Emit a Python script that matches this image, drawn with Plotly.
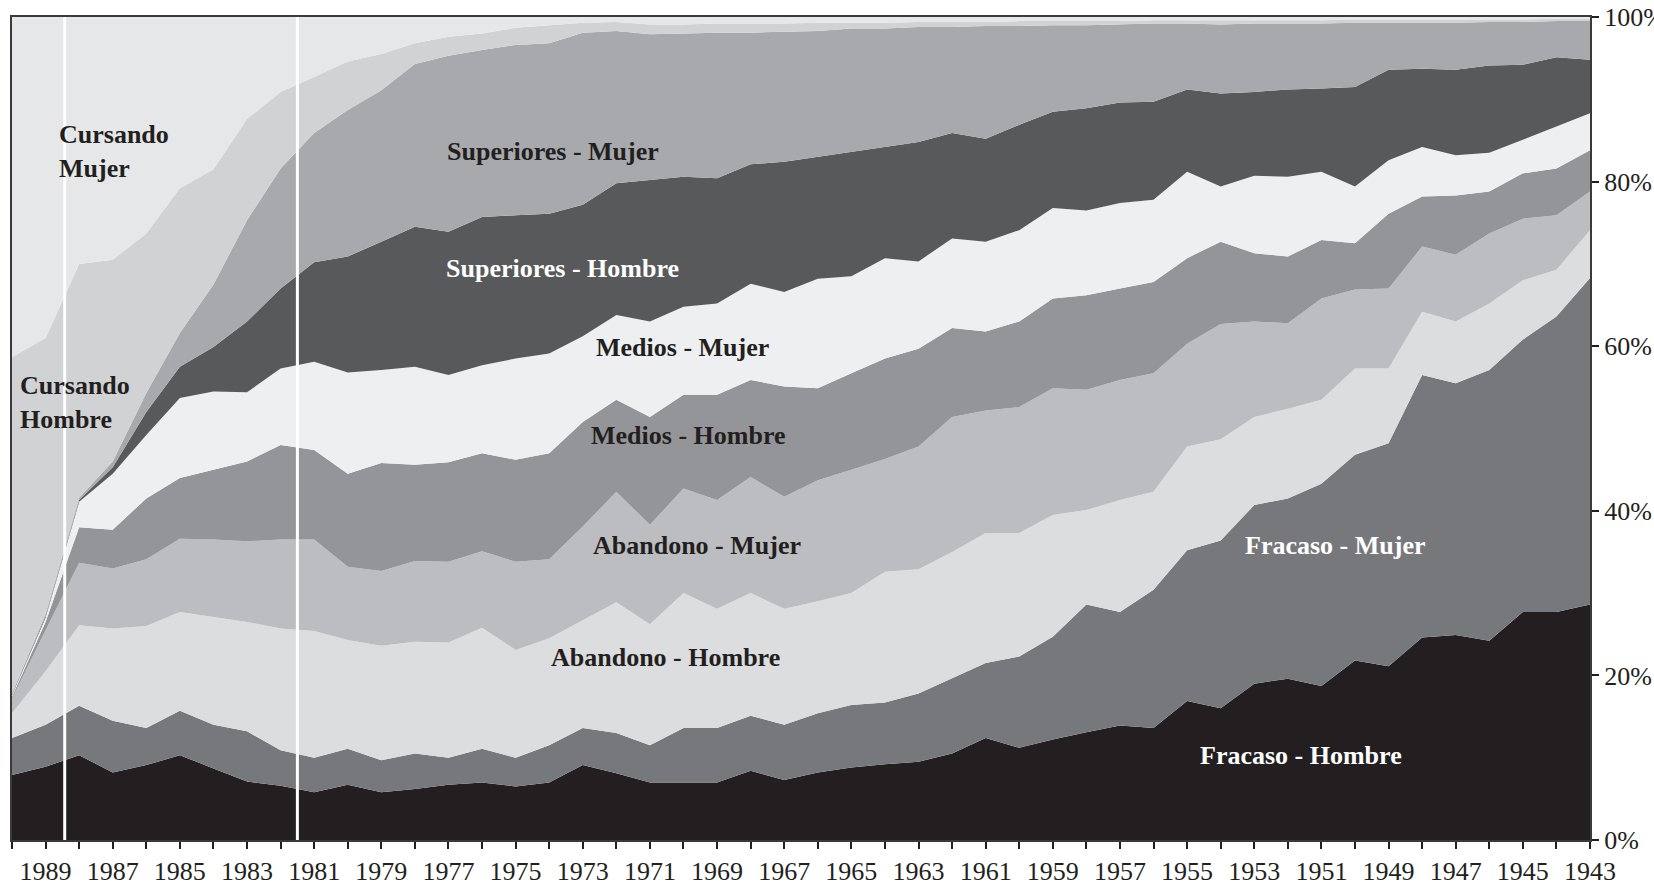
import plotly.graph_objects as go

years = list(range(1990, 1942, -1))
tick_years = list(range(1989, 1942, -2))

fracaso_hombre = [7.9, 8.9, 10.3, 8.2, 9.1, 10.3, 8.7, 7.1, 6.6, 5.8, 6.7, 5.8, 6.2, 6.7, 7.0, 6.5, 7.0, 9.1, 8.1, 7.0, 7.0, 7.0, 8.4, 7.3, 8.2, 8.8, 9.2, 9.5, 10.5, 12.4, 11.2, 12.2, 13.1, 13.9, 13.6, 16.9, 16.0, 19.0, 19.6, 18.7, 21.8, 21.1, 24.6, 24.9, 24.2, 27.7, 27.7, 28.6]
fracaso_mujer = [4.5, 5.1, 6.0, 6.3, 4.5, 5.4, 5.3, 6.1, 4.3, 4.2, 4.4, 3.9, 4.3, 3.3, 4.1, 3.5, 4.5, 4.5, 4.9, 4.5, 6.6, 6.6, 6.7, 6.7, 7.2, 7.6, 7.5, 8.3, 9.1, 9.1, 11.1, 12.5, 15.5, 13.8, 16.8, 18.3, 20.4, 21.7, 21.9, 24.6, 25.0, 27.1, 31.9, 30.6, 32.9, 33.1, 35.9, 39.7]
abandono_hombre = [3.0, 6.5, 9.8, 11.2, 12.4, 12.0, 13.1, 13.3, 14.8, 15.4, 13.2, 13.9, 13.6, 14.0, 14.7, 13.1, 13.0, 13.1, 15.9, 14.7, 16.4, 14.5, 14.9, 14.1, 13.6, 13.6, 15.9, 15.1, 15.4, 15.8, 15.0, 14.8, 11.5, 13.6, 11.9, 12.6, 12.3, 10.7, 10.9, 10.2, 10.5, 9.1, 7.7, 7.5, 8.1, 7.2, 5.7, 5.8]
abandono_mujer = [1.8, 5.0, 7.6, 7.3, 8.1, 8.9, 9.4, 9.8, 10.8, 11.1, 8.9, 9.1, 9.8, 9.8, 9.3, 10.7, 9.6, 11.4, 13.4, 12.1, 12.7, 13.2, 14.1, 13.6, 14.7, 15.0, 13.7, 14.9, 16.4, 14.9, 15.3, 15.4, 14.6, 14.6, 14.4, 12.5, 14.0, 11.6, 10.4, 12.3, 9.6, 9.7, 7.9, 8.1, 8.5, 7.5, 6.6, 4.7]
medios_hombre = [0.2, 1.0, 4.3, 4.7, 7.4, 7.4, 8.5, 9.7, 11.5, 10.9, 11.3, 13.1, 11.7, 12.1, 11.9, 12.4, 12.9, 12.7, 11.2, 13.1, 11.4, 12.8, 11.8, 13.4, 11.2, 11.7, 12.2, 11.9, 10.8, 9.6, 10.4, 10.9, 11.5, 11.1, 11.1, 10.4, 10.0, 8.3, 8.1, 7.1, 5.6, 9.1, 6.1, 7.2, 5.1, 5.5, 5.7, 5.0]
medios_mujer = [0.2, 0.5, 3.1, 6.8, 7.7, 9.7, 9.5, 8.4, 9.3, 10.7, 12.3, 11.3, 11.9, 10.6, 10.7, 12.3, 12.1, 10.4, 10.3, 11.6, 10.7, 11.1, 11.7, 11.5, 13.3, 11.8, 12.2, 10.6, 10.9, 10.9, 11.1, 11.0, 10.3, 10.4, 10.0, 10.5, 6.7, 9.4, 9.7, 8.3, 6.9, 6.5, 6.0, 4.9, 4.7, 4.1, 5.1, 4.5]
superiores_hombre = [0.1, 0.2, 0.2, 0.8, 2.8, 3.8, 5.4, 8.6, 9.7, 12.1, 14.1, 15.6, 17.0, 17.4, 18.0, 17.4, 17.0, 16.0, 16.0, 17.2, 15.8, 15.2, 14.5, 15.8, 14.8, 15.1, 13.5, 14.5, 12.8, 12.5, 12.8, 11.7, 12.4, 12.2, 11.9, 10.0, 11.3, 10.2, 10.6, 10.1, 12.1, 11.0, 9.5, 10.4, 10.6, 9.1, 8.4, 6.5]
superiores_mujer = [0.1, 0.3, 0.3, 0.7, 2.3, 4.1, 7.6, 12.3, 14.6, 15.7, 17.8, 18.4, 19.8, 21.4, 20.3, 20.7, 20.7, 20.9, 18.5, 17.7, 17.4, 17.7, 16.0, 15.8, 15.3, 15.0, 14.4, 14.0, 12.9, 13.7, 12.0, 10.5, 10.1, 9.5, 9.5, 8.0, 8.4, 8.3, 8.0, 7.9, 7.8, 5.7, 5.6, 5.7, 5.3, 5.2, 4.4, 4.7]
cursando_hombre = [40.9, 33.5, 28.4, 24.5, 19.4, 17.6, 14.0, 12.3, 9.3, 6.8, 5.9, 4.4, 2.5, 2.3, 2.0, 2.1, 2.2, 1.2, 1.1, 1.2, 1.1, 1.1, 1.1, 1.0, 1.0, 0.7, 0.7, 0.6, 0.6, 0.5, 0.6, 0.5, 0.5, 0.4, 0.4, 0.4, 0.5, 0.4, 0.4, 0.4, 0.4, 0.4, 0.4, 0.4, 0.3, 0.3, 0.3, 0.3]
cursando_mujer = [41.3, 39.0, 30.0, 29.5, 26.3, 20.8, 18.5, 12.4, 9.1, 7.3, 5.4, 4.5, 3.2, 2.4, 2.0, 1.3, 1.0, 0.7, 0.6, 0.9, 0.9, 0.8, 0.8, 0.8, 0.7, 0.7, 0.7, 0.6, 0.6, 0.6, 0.5, 0.5, 0.5, 0.5, 0.4, 0.4, 0.4, 0.4, 0.4, 0.4, 0.3, 0.3, 0.3, 0.3, 0.3, 0.3, 0.2, 0.2]

series = [
    ("Fracaso - Hombre", fracaso_hombre, "#231f20"),
    ("Fracaso - Mujer", fracaso_mujer, "#77787b"),
    ("Abandono - Hombre", abandono_hombre, "#dcdddf"),
    ("Abandono - Mujer", abandono_mujer, "#bcbdc0"),
    ("Medios - Hombre", medios_hombre, "#939598"),
    ("Medios - Mujer", medios_mujer, "#eeeff1"),
    ("Superiores - Hombre", superiores_hombre, "#58595b"),
    ("Superiores - Mujer", superiores_mujer, "#a7a9ac"),
    ("Cursando Hombre", cursando_hombre, "#d1d2d4"),
    ("Cursando Mujer", cursando_mujer, "#e6e7e8"),
]

fig = go.Figure()
for name, vals, col in series:
    fig.add_trace(go.Scatter(
        x=years, y=vals, name=name, mode="lines",
        stackgroup="one", groupnorm="percent",
        line=dict(width=0, color=col), fillcolor=col,
        hoverinfo="x+y+name",
    ))

FONT = "Liberation Serif, Times New Roman, serif"

# labels: (text, x-year, y-percent, color, xanchor)
labels = [
    ("Cursando<br>Mujer", 1988.66, 83.6, "#231f20", "left"),
    ("Cursando<br>Hombre", 1989.82, 53.2, "#231f20", "left"),
    ("Superiores - Mujer", 1973.89, 83.6, "#231f20", "center"),
    ("Superiores - Hombre", 1973.59, 69.4, "#ffffff", "center"),
    ("Medios - Mujer", 1970.04, 59.9, "#231f20", "center"),
    ("Medios - Hombre", 1969.86, 49.2, "#231f20", "center"),
    ("Abandono - Mujer", 1969.60, 35.8, "#231f20", "center"),
    ("Abandono - Hombre", 1970.55, 22.2, "#231f20", "center"),
    ("Fracaso - Mujer", 1950.59, 35.8, "#ffffff", "center"),
    ("Fracaso - Hombre", 1951.61, 10.3, "#ffffff", "center"),
]
for txt, xv, yv, col, xa in labels:
    fig.add_annotation(
        x=xv, y=yv, xref="x", yref="y", text=txt, showarrow=False,
        xanchor=xa, yanchor="middle", align="left",
        font=dict(family=FONT, size=26, color=col, weight="bold"),
    )

for xv in [1988.43, 1981.5]:
    fig.add_shape(type="line", x0=xv, x1=xv, y0=0, y1=100, xref="x", yref="y",
                  line=dict(color="#ffffff", width=3), layer="above")

fig.update_layout(
    width=1654, height=886,
    margin=dict(l=12, r=64, t=17, b=46, autoexpand=False),
    paper_bgcolor="#ffffff", plot_bgcolor="#ffffff",
    showlegend=False,
    font=dict(family=FONT, size=26, color="#231f20"),
)
fig.update_xaxes(
    range=[1990, 1943], tickmode="array", tickvals=tick_years,
    ticktext=[str(y) for y in tick_years],
    ticks="outside", ticklen=7, tickwidth=1.5, tickcolor="#231f20",
    minor=dict(dtick=1, tick0=1990, ticks="outside", ticklen=7, tickwidth=1.5, tickcolor="#231f20", showgrid=False),
    showgrid=False, zeroline=False, showline=True, linecolor="#3a3a3a", linewidth=2, mirror=True,
    ticklabelstandoff=0, automargin=False,
    tickfont=dict(family=FONT, size=26, color="#231f20"),
)
fig.update_yaxes(
    range=[0, 100], side="right", tickmode="array",
    tickvals=[0, 20, 40, 60, 80, 100], ticktext=["0%", "20%", "40%", "60%", "80%", "100%"],
    ticks="outside", ticklen=7, tickwidth=1.5, tickcolor="#231f20",
    showgrid=False, zeroline=False, showline=True, linecolor="#3a3a3a", linewidth=2, mirror=True,
    automargin=False,
    tickfont=dict(family=FONT, size=26, color="#231f20"),
)

fig.write_html("out.html", config={"displayModeBar": False},
               post_script="document.body.style.margin='0';document.body.style.overflow='hidden';")
